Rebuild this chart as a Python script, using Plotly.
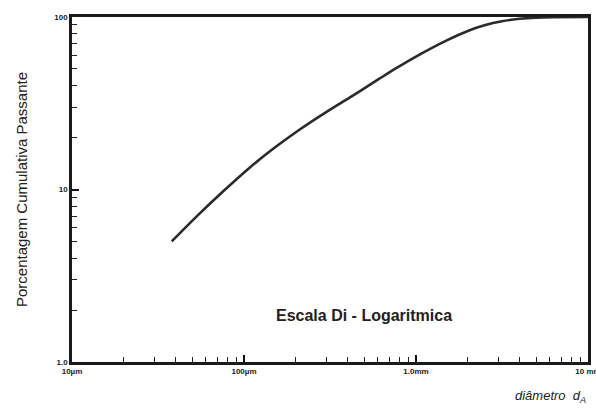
import plotly.graph_objects as go

# Data (diameter in µm, cumulative % passing)
diameter_um = [38, 54, 76, 107, 151, 214, 302, 427, 600, 767, 1000, 1500, 2000, 2500, 3160, 4000, 5000, 6300, 10000]
pct_passing = [5.0, 7.1, 9.8, 13.3, 17.5, 22.5, 28.2, 34.9, 43.3, 50.5, 59.0, 73.0, 83.0, 89.5, 94.5, 97.6, 99.2, 99.8, 100.0]

x_tickvals = [10, 100, 1000, 10000]
x_ticktext = ["10µm", "100µm", "1.0mm", "10 mm"]
y_tickvals = [1, 10, 100]
y_ticktext = ["1.0", "10", "100"]

x_minor = [m * 10 ** e for e in range(1, 4) for m in range(2, 10)]
y_minor = [m * 10 ** e for e in range(0, 2) for m in range(2, 10)]

fig = go.Figure()
fig.add_trace(go.Scatter(
    x=diameter_um, y=pct_passing, mode="lines",
    line=dict(color="#2a2a2a", width=2.6, shape="spline", smoothing=1.0),
    hoverinfo="skip", showlegend=False,
))

tickfont = dict(family="Liberation Sans, Arial", size=8, color="#222")

fig.update_xaxes(
    type="log", range=[1, 4], showgrid=False, zeroline=False, automargin=False,
    showline=True, linecolor="#1a1a1a", linewidth=2.5, mirror=True,
    ticks="inside", ticklen=7, tickwidth=2, tickcolor="#111",
    ticklabeloverflow="allow", tickfont=tickfont,
    tickvals=x_tickvals, ticktext=["<b>%s</b>" % t for t in x_ticktext],
    minor=dict(tickvals=x_minor, ticks="inside", ticklen=5, tickwidth=1.3, tickcolor="#222", showgrid=False),
)
fig.update_yaxes(
    type="log", range=[0, 2], showgrid=False, zeroline=False,
    showline=True, linecolor="#1a1a1a", linewidth=2.5, mirror=True,
    ticks="inside", ticklen=7, tickwidth=2, tickcolor="#111",
    tickfont=tickfont,
    tickvals=y_tickvals, ticktext=["<b>%s</b>" % t for t in y_ticktext],
    minor=dict(tickvals=y_minor, ticks="inside", ticklen=5, tickwidth=1.3, tickcolor="#222", showgrid=False),
    title=dict(text="Porcentagem Cumulativa Passante",
               font=dict(family="Liberation Sans, Arial", size=15, color="#222"), standoff=24),
)

fig.add_annotation(
    x=0.74, y=0.105, xref="paper", yref="paper", showarrow=False,
    text="<b>Escala Di - Logaritmica</b>",
    font=dict(family="Liberation Sans, Arial", size=16, color="#222"),
)
fig.add_annotation(
    x=1.0, y=-0.10, xref="paper", yref="paper", xanchor="right", yanchor="middle", showarrow=False,
    text="<i>diâmetro  d<sub>A</sub></i>",
    font=dict(family="Liberation Sans, Arial", size=13, color="#222"),
)

fig.update_layout(
    width=596, height=411,
    margin=dict(l=72, r=5, t=17, b=49),
    paper_bgcolor="white", plot_bgcolor="white",
)

fig.write_html("out.html")
